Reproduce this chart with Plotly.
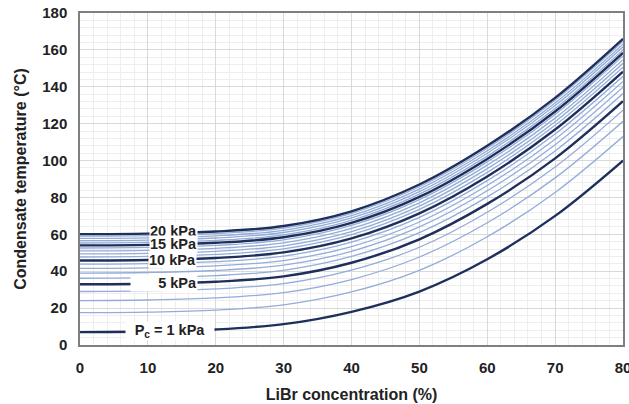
import numpy as np
import plotly.graph_objects as go

# LiBr concentration (%) at which each isobar is tabulated
libr_pct = [0, 10, 20, 30, 40, 50, 60, 70, 80]

# Condensate temperature (°C) along each condenser-pressure isobar
t_01kpa = [7.0, 7.3, 8.4, 11.3, 18.0, 29.0, 46.5, 70.0, 100.0]
t_02kpa = [17.5, 17.8, 18.9, 21.8, 28.8, 40.5, 58.7, 82.7, 113.0]
t_03kpa = [24.1, 24.4, 25.5, 28.4, 35.5, 47.7, 66.3, 90.6, 121.3]
t_04kpa = [29.0, 29.3, 30.4, 33.3, 40.6, 53.0, 72.0, 96.5, 127.3]
t_05kpa = [32.9, 33.2, 34.3, 37.2, 44.6, 57.3, 76.5, 101.2, 132.2]
t_06kpa = [36.2, 36.5, 37.6, 40.5, 48.0, 60.9, 80.3, 105.2, 136.3]
t_07kpa = [39.0, 39.3, 40.4, 43.3, 50.8, 64.0, 83.6, 108.6, 139.8]
t_08kpa = [41.5, 41.8, 42.9, 45.8, 53.4, 66.7, 86.5, 111.6, 142.9]
t_09kpa = [43.8, 44.1, 45.2, 48.2, 55.8, 69.2, 89.1, 114.4, 145.7]
t_10kpa = [45.8, 46.1, 47.2, 50.2, 57.8, 71.4, 91.4, 116.8, 148.2]
t_11kpa = [47.7, 48.0, 49.1, 52.1, 59.8, 73.5, 93.6, 119.1, 150.6]
t_12kpa = [49.4, 49.7, 50.8, 53.8, 61.5, 75.3, 95.6, 121.1, 152.7]
t_13kpa = [51.0, 51.3, 52.4, 55.4, 63.2, 77.1, 97.5, 123.0, 154.7]
t_14kpa = [52.6, 52.9, 54.0, 57.0, 64.8, 78.8, 99.3, 125.0, 156.7]
t_15kpa = [54.0, 54.3, 55.4, 58.4, 66.2, 80.3, 100.9, 126.6, 158.4]
t_16kpa = [55.3, 55.6, 56.7, 59.7, 67.6, 81.8, 102.4, 128.2, 160.0]
t_17kpa = [56.6, 56.9, 58.0, 61.0, 68.9, 83.2, 104.0, 129.8, 161.7]
t_18kpa = [57.8, 58.1, 59.2, 62.2, 70.1, 84.5, 105.3, 131.2, 163.1]
t_19kpa = [59.0, 59.3, 60.4, 63.4, 71.4, 85.8, 106.7, 132.7, 164.6]
t_20kpa = [60.1, 60.4, 61.5, 64.5, 72.5, 87.0, 108.0, 134.0, 166.0]

pressures_kpa = list(range(1, 21))
isobars = [t_01kpa, t_02kpa, t_03kpa, t_04kpa, t_05kpa, t_06kpa, t_07kpa,
           t_08kpa, t_09kpa, t_10kpa, t_11kpa, t_12kpa, t_13kpa, t_14kpa,
           t_15kpa, t_16kpa, t_17kpa, t_18kpa, t_19kpa, t_20kpa]

# Labelled (bold) isobars and their label text
labelled = {1: "P<sub>c</sub> = 1 kPa", 5: "5 kPa", 10: "10 kPa",
            15: "15 kPa", 20: "20 kPa"}

DARK = "#1e2f5c"
LIGHT = "#93acd8"
FONT = "Arial, Liberation Sans, sans-serif"

fig = go.Figure()

# thin isobars first, bold ones on top
for p, temps in zip(pressures_kpa, isobars):
    if p in labelled:
        continue
    fig.add_trace(go.Scatter(x=libr_pct, y=temps, mode="lines",
                             line=dict(color=LIGHT, width=1.3, shape="spline"),
                             hoverinfo="skip", showlegend=False))
for p, temps in zip(pressures_kpa, isobars):
    if p not in labelled:
        continue
    fig.add_trace(go.Scatter(x=libr_pct, y=temps, mode="lines",
                             line=dict(color=DARK, width=2.4, shape="spline"),
                             name=f"{p} kPa", showlegend=False))

# in-line labels with a white box that breaks the curve:
# pressure -> (x position, box width, text alignment, vertical nudge in px)
label_pos = {20: (13.8, None, "center", 1.5),
             15: (13.8, None, "center", 0),
             10: (13.6, None, "center", -0.5),
             5: (12.4, 66, "right", 0),
             1: (13.3, 88, "center", 0)}
for p in [20, 15, 10, 5, 1]:
    xl, w, al, dy = label_pos[p]
    yl = float(np.interp(xl, libr_pct, isobars[p - 1]))
    fig.add_annotation(x=xl, y=yl, text=f"<b>{labelled[p]}</b>",
                       showarrow=False, xanchor="center", yanchor="middle",
                       yshift=dy, bgcolor="white", borderpad=0, width=w,
                       align=al,
                       font=dict(family=FONT, size=14.5, color="#222222"))

axis_common = dict(
    showline=True, linecolor="#7f7f7f", linewidth=1.5, mirror=True,
    showgrid=True, gridcolor="#d9d9d9", gridwidth=1,
    zeroline=False, ticks="", ticklabelstandoff=8,
    tickfont=dict(family=FONT, size=15, color="#222222", weight="bold"),
)

fig.update_xaxes(range=[0, 80], dtick=10, tick0=0, ticklabeloverflow="allow",
                 minor=dict(dtick=2, showgrid=True, gridcolor="#eeeeee", gridwidth=1),
                 title=dict(text="<b>LiBr concentration (%)</b>", standoff=14,
                            font=dict(family=FONT, size=16, color="#222222")),
                 **axis_common)
fig.update_yaxes(range=[0, 180], dtick=20, tick0=0,
                 minor=dict(dtick=4, showgrid=True, gridcolor="#eeeeee", gridwidth=1),
                 title=dict(text="<b>Condensate temperature (°C)</b>", standoff=12,
                            font=dict(family=FONT, size=16, color="#222222")),
                 **axis_common)

fig.update_layout(
    width=629, height=404,
    margin=dict(l=80, r=6, t=13, b=59, autoexpand=False),
    paper_bgcolor="white", plot_bgcolor="white",
    font=dict(family=FONT),
)

fig.write_html("out.html")
